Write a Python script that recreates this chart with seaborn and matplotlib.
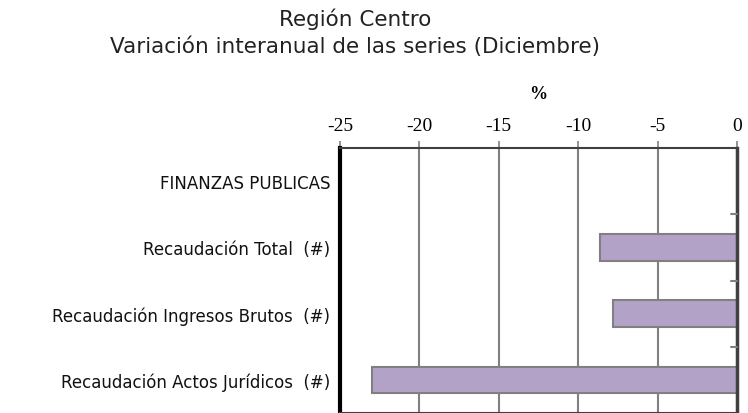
import numpy as np
import pandas as pd
import matplotlib
matplotlib.use("Agg")
import matplotlib.pyplot as plt
import seaborn as sns

# Data
categorias = ["FINANZAS PUBLICAS",
              "Recaudación Total  (#)",
              "Recaudación Ingresos Brutos  (#)",
              "Recaudación Actos Jurídicos  (#)"]
variacion = [np.nan, -8.6, -7.8, -23.0]
x_ticks = [-25, -20, -15, -10, -5, 0]

df = pd.DataFrame({"serie": categorias, "var": variacion})

sns.set_theme(style="white")
plt.rcParams["font.family"] = ["DejaVu Sans"]

fig = plt.figure(figsize=(7.48, 4.14), dpi=100)
ax = fig.add_axes([340 / 748, 0.0, 397 / 748, 1 - 149 / 414])

sns.barplot(data=df, y="serie", x="var", order=categorias, orient="h",
            color="#B3A2C7", saturation=1, width=0.4,
            edgecolor="#808080", linewidth=1.5, ax=ax, errorbar=None)

ax.set_xlim(-25, 0)
ax.set_ylim(len(categorias) - 0.5, -0.5)
ax.set_xticks(x_ticks)
ax.set_xticklabels([str(t) for t in x_ticks], fontfamily="Liberation Serif",
                   fontsize=14, color="black")
ax.xaxis.tick_top()
ax.xaxis.set_label_position("top")
ax.set_xlabel("%", fontfamily="Liberation Serif", fontsize=13,
              fontweight="bold", labelpad=14, color="black")
ax.set_ylabel("")
ax.tick_params(axis="x", top=True, length=5, width=1.2, color="#808080",
               pad=5, direction="out")
ax.tick_params(axis="y", left=False, labelsize=12, pad=1,
               labelcolor="#111111")

ax.grid(axis="x", color="#808080", linewidth=1.5)
ax.set_axisbelow(True)

# small inward ticks on the right at category boundaries
for yb in [0.5, 1.5, 2.5]:
    ax.plot([-0.35, 0], [yb, yb], color="#808080", linewidth=1.5,
            clip_on=False, zorder=3)

ax.spines["left"].set_color("black")
ax.spines["left"].set_linewidth(3)
ax.spines["top"].set_color("#404040")
ax.spines["top"].set_linewidth(1.5)
ax.spines["right"].set_color("#404040")
ax.spines["right"].set_linewidth(2.5)
ax.spines["bottom"].set_color("#404040")
ax.spines["bottom"].set_linewidth(1.5)

fig.text(355 / 748, 1 - 19 / 414, "Región Centro", ha="center", va="center",
         fontsize=15.5, color="#222222")
fig.text(355 / 748, 1 - 47 / 414,
         "Variación interanual de las series (Diciembre)",
         ha="center", va="center", fontsize=15.5, color="#222222")

fig.savefig("out.png", dpi=100)
